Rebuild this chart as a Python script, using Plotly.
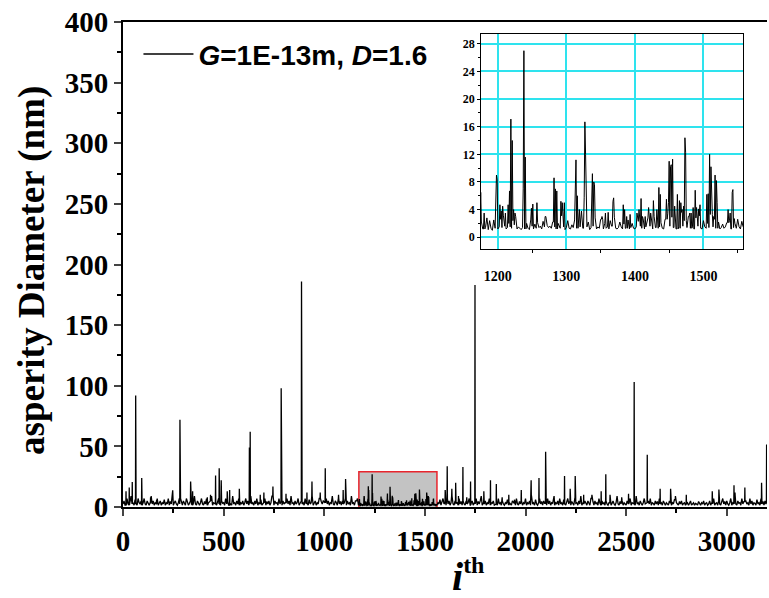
import plotly.graph_objects as go

# ---------------- data ----------------
# noise band outside the magnified window, one value every 5 indices
BASE_STEP = 5
BASE_LEFT_START = 0
BASE_LEFT = [2.5, 5, 1.5, 3.5, 7, 2.5, 1.5, 4.5, 9, 2.5, 3.5, 1.5, 6, 2.5, 1.5, 7, 3.5, 2.5, 5, 1.5,
             3.5, 7, 2.5, 1.5, 5, 3, 1.5, 3.5, 9, 2.5, 5, 1.5, 3.5, 2.5, 7, 1.5, 3, 5, 1.5, 3.5,
             2.5, 6, 1.5, 3.5, 2.5, 7, 1.5, 4.5, 2.5, 9, 1.5, 3.5, 5, 2.5, 1.5, 3.5, 7, 2.5, 4.5, 1.5,
             5, 2.5, 1.5, 7, 3.5, 1.5, 3, 5, 2.5, 1.5, 3.5, 9, 2.5, 1.5, 5, 3, 1.5, 3.5, 7, 2.5,
             1.5, 4.5, 2.5, 7, 1.5, 3.5, 5, 2.5, 9, 1.5, 3.5, 2.5, 6, 1.5, 3.5, 7, 2.5, 1.5, 5, 3,
             3.5, 1.5, 7, 2.5, 4.5, 1.5, 5, 2.5, 1.5, 9, 3, 3.5, 1.5, 5, 2.5, 7, 1.5, 3.5, 2.5, 5,
             1.5, 3.5, 7, 2.5, 5, 1.5, 3, 9, 2.5, 3.5, 1.5, 5, 2.5, 7, 1.5, 3.5, 2.5, 6, 1.5, 3.5,
             2.5, 7, 1.5, 4.5, 2.5, 5, 1.5, 3.5, 9, 2.5, 1.5, 5, 3, 3.5, 1.5, 7, 2.5, 4.5, 1.5, 5,
             2.5, 3.5, 1.5, 7, 2.5, 5, 1.5, 9, 3, 3.5, 1.5, 5, 2.5, 3.5, 7, 1.5, 3, 5, 2.5, 3.5,
             1.5, 7, 2.5, 3.5, 1.5, 6, 2.5, 3.5, 9, 1.5, 3, 5, 1.5, 3.5, 2.5, 7, 1.5, 4.5, 2.5, 5,
             3.5, 1.5, 7, 2.5, 5, 1.5, 3.5, 3, 9, 2.5, 1.5, 5, 3.5, 1.5, 7, 2.5, 4.5, 1.5, 5, 2.5,
             3.5, 7, 1.5, 5, 2.5, 3.5, 1.5, 9, 3, 3.5, 1.5, 5, 2.5, 7, 1.5]
BASE_RIGHT_START = 1560
BASE_RIGHT = [1.5, 3.5, 2.5, 6, 1.5, 3.5, 7, 2.5,
              3.5, 1.5, 7, 2.5, 5, 1.5, 3.5, 9, 2.5, 1.5, 5, 3, 3.5, 1.5, 7, 2.5, 4.5, 1.5, 5, 2.5,
              1.5, 5, 2.5, 3.5, 7, 1.5, 3, 5, 1.5, 3.5, 2.5, 7, 1.5, 4.5, 2.5, 5, 9, 1.5, 3.5, 2.5,
              5, 1.5, 3.5, 2.5, 7, 1.5, 3.5, 3, 5, 1.5, 2.5, 4.5, 1.5, 7, 2.5, 3.5, 1.5, 5, 2.5, 1.5,
              3.5, 2.5, 6, 1.5, 3.5, 2.5, 1.5, 5, 3, 3.5, 1.5, 7, 2.5, 1.5, 4.5, 2.5, 5, 1.5, 3.5, 2.5,
              7, 1.5, 3.5, 2.5, 5, 1.5, 9, 2.5, 3.5, 1.5, 6, 2.5, 1.5, 3.5, 7, 2.5, 4.5, 1.5, 5, 3,
              3.5, 1.5, 7, 2.5, 5, 1.5, 3.5, 3, 9, 1.5, 3.5, 2.5, 5, 1.5, 7, 2.5, 3.5, 1.5, 6, 2.5,
              1.5, 3.5, 7, 2.5, 5, 1.5, 4.5, 2.5, 1.5, 7, 3, 3.5, 1.5, 5, 2.5, 9, 1.5, 3.5, 2.5, 5,
              2.5, 1.5, 5, 3.5, 1.5, 7, 2.5, 4.5, 1.5, 5, 2.5, 3.5, 1.5, 7, 3, 1.5, 5, 2.5, 3.5, 1.5,
              5, 2.5, 1.5, 3.5, 7, 1.5, 3, 5, 2.5, 1.5, 3.5, 9, 2.5, 1.5, 4.5, 2.5, 5, 1.5, 3.5, 2.5,
              1.5, 5, 2.5, 3.5, 7, 1.5, 3.5, 2.5, 6, 1.5, 9, 2.5, 3.5, 1.5, 5, 3, 1.5, 3.5, 7, 2.5,
              3.5, 1.5, 5, 2.5, 7, 1.5, 3.5, 3, 1.5, 5, 2.5, 4.5, 1.5, 7, 2.5, 3.5, 1.5, 5, 2.5, 1.5,
              3.5, 2.5, 1.5, 5, 3, 1.5, 3.5, 2.5, 6, 1.5, 3.5, 2.5, 1.5, 4.5, 2.5, 5, 1.5, 3, 3.5, 1.5,
              2.5, 3.5, 1.5, 3, 5, 1.5, 2.5, 3.5, 1.5, 3, 2.5, 1.5, 4.5, 2.5, 1.5, 3.5, 2.5, 5, 1.5, 3,
              3.5, 1.5, 2.5, 5, 1.5, 3.5, 2.5, 7, 1.5, 3, 3.5, 1.5, 5, 2.5, 1.5, 3.5, 7, 2.5, 4.5, 1.5,
              5, 2.5, 1.5, 3.5, 7, 1.5, 3.5, 2.5, 9, 2.5, 1.5, 5, 3, 3.5, 1.5, 7, 2.5, 4.5, 1.5, 5,
              2.5, 3.5, 1.5, 7, 2.5, 5, 1.5, 3.5, 3, 1.5, 6, 2.5, 3.5, 1.5, 7, 2.5, 4.5, 1.5, 5, 2.5,
              3.5]
# noise band inside the magnified window, one value every 2 indices
INSET_BASE_START, INSET_STEP = 1176, 2
INSET_BASE = [2.2, 1.2, 3.5, 1.4, 2.8, 1.1, 2.4, 1.3, 1.0, 2.5,
              1.3, 2.1, 1.2, 1.5, 2.6, 1.4, 3.2, 1.6, 1.2, 1.4,
              2.0, 1.5, 1.3, 2.4, 1.8, 3.0, 1.2, 1.5, 1.3, 1.1,
              1.4, 1.2, 1.6, 2.0, 1.3, 1.1, 2.5, 1.6, 1.2, 1.9,
              1.3, 2.1, 1.4, 1.6, 1.2, 2.3, 1.5, 3.0, 1.7, 1.4,
              1.6, 1.3, 2.2, 1.5, 1.2, 1.4, 2.0, 1.3, 3.1, 1.2,
              1.5, 1.1, 1.4, 2.4, 1.3, 1.2, 1.8, 1.4, 2.5, 1.3,
              1.2, 2.7, 1.5, 3.8, 1.3, 2.4, 1.2, 1.5, 2.2, 1.1,
              1.4, 1.6, 1.3, 2.8, 1.2, 1.5, 1.3, 2.6, 1.4, 1.2,
              2.0, 1.3, 1.5, 1.2, 2.4, 1.6, 1.4, 2.9, 1.3, 1.2,
              1.4, 2.2, 1.5, 1.2, 1.9, 1.3, 1.6, 2.5, 1.2, 1.4,
              2.0, 1.3, 1.2, 1.5, 2.3, 1.4, 1.6, 1.3, 2.7, 1.2,
              1.5, 2.8, 1.3, 1.6, 2.4, 1.2, 3.0, 1.4, 2.2, 1.3,
              1.5, 2.1, 1.3, 1.2, 2.6, 1.4, 3.4, 1.6, 1.3, 2.9,
              1.4, 3.2, 1.2, 2.5, 1.5, 1.3, 3.6, 1.6, 2.4, 1.2,
              1.4, 3.0, 1.3, 2.2, 1.5, 1.2, 2.8, 1.4, 1.6, 3.1,
              1.3, 1.2, 2.4, 1.5, 1.3, 2.0, 1.4, 3.3, 1.2, 1.5,
              2.6, 1.3, 1.5, 2.2, 1.2, 1.4, 1.9, 1.3, 1.5, 2.1,
              1.3, 2.4, 1.2, 1.5, 1.4, 2.0, 1.3, 2.6, 1.5, 1.2,
              2.3, 1.5]
# individual peaks (index, diameter in nm)
SPIKE_IDX = [15, 31, 46, 63, 93, 137, 167, 247, 283, 285, 336, 346, 419, 435,
             460, 478, 488, 518, 530, 578, 628, 632, 682, 700, 745, 786, 810,
             887, 914, 939, 980, 1005, 1071, 1094, 1106, 1160,
             1175, 1180, 1197, 1198, 1199, 1203, 1205, 1207, 1211, 1215, 1217,
             1219, 1221, 1223, 1225, 1237, 1238, 1240, 1249, 1251, 1257, 1269,
             1282, 1284, 1286, 1292, 1294, 1297, 1313, 1314, 1316, 1319, 1326,
             1327, 1328, 1337, 1338, 1340, 1341, 1352, 1357, 1361, 1368, 1369,
             1383, 1385, 1388, 1393, 1403, 1406, 1409, 1411, 1415, 1420, 1423,
             1427, 1432, 1435, 1437, 1446, 1449, 1450, 1452, 1453, 1455, 1458,
             1462, 1465, 1467, 1469, 1471, 1473, 1474, 1480, 1482, 1485, 1488,
             1490, 1493, 1495, 1505, 1507, 1509, 1511, 1512, 1515, 1517, 1519,
             1520, 1536, 1539, 1542, 1543, 1545,
             1601, 1611, 1634, 1653, 1667, 1689, 1708, 1727, 1749, 1793, 1826,
             1855, 1884, 1917, 1945, 1979, 2028, 2067, 2100, 2102, 2141, 2194,
             2222, 2247, 2289, 2330, 2376, 2399, 2420, 2478, 2512, 2540, 2605,
             2669, 2721, 2745, 2799, 2928, 2961, 3036, 3041, 3090, 3173, 3198]
SPIKE_VAL = [13, 16, 20.6, 92, 24, 8, 6, 13.7, 72, 25, 21, 13, 8, 10,
             26, 32, 22, 13, 14, 15, 49, 62, 10, 12, 17, 98, 11,
             186, 12, 21, 12, 32, 10, 14, 23, 5,
             6.5, 3.5, 6.3, 9.0, 8.3, 4.7, 3.8, 4.5, 3.5, 4.7, 6.7,
             17.1, 14.0, 4.0, 3.5, 7.0, 27.0, 11.6, 4.2, 4.8, 5.0, 3.0,
             8.6, 7.0, 6.7, 5.2, 5.0, 5.0, 6.5, 11.2, 6.0, 4.0, 5.8,
             16.7, 12.0, 7.5, 9.2, 8.0, 7.6, 3.0, 3.5, 3.6, 5.2, 5.7,
             4.7, 4.0, 3.0, 3.3, 3.5, 4.0, 5.6, 3.0, 3.0, 4.3, 3.5,
             5.3, 4.0, 7.2, 6.2, 5.5, 5.0, 11.0, 10.2, 10.5, 11.3, 4.5,
             6.2, 5.3, 5.0, 4.0, 4.5, 14.4, 12.3, 3.5, 3.5, 4.3, 6.8,
             4.3, 4.1, 4.7, 6.2, 6.3, 12.0, 10.2, 5.0, 3.0, 9.0, 8.2,
             5.0, 4.0, 3.5, 6.5, 6.9, 2.7,
             14, 33.7, 15, 20, 9, 33, 8, 21, 183, 13, 22,
             19, 8, 10, 6, 14, 22, 24, 45.5, 28, 9, 25.5,
             15, 25.5, 10, 10, 13, 27, 10, 8, 11, 103, 43,
             15, 15, 9, 10, 13, 14.5, 18, 12, 16, 20, 51.6]

# magnified window (red box) and axis ticks
WINDOW = (1172, 1560, -1, 29)
X_TICKS = [0, 500, 1000, 1500, 2000, 2500, 3000]
Y_TICKS = [0, 50, 100, 150, 200, 250, 300, 350, 400]
INSET_X_TICKS = [1200, 1300, 1400, 1500]
INSET_Y_TICKS = [0, 4, 8, 12, 16, 20, 24, 28]
LEGEND_TEXT = "<b><i>G</i>=1E-13m, <i>D</i>=1.6</b>"
Y_TITLE = "<b>asperity Diameter (nm)</b>"
X_TITLE = "<b><i>i</i><sup><span style='font-size:24px'>th</span></sup></b>"

# ---------------- assemble the series ----------------
base = {}
for k, v in enumerate(BASE_LEFT):
    base[BASE_LEFT_START + k * BASE_STEP] = v
for k, v in enumerate(INSET_BASE):
    base[INSET_BASE_START + k * INSET_STEP] = v
for k, v in enumerate(BASE_RIGHT):
    base[BASE_RIGHT_START + k * BASE_STEP] = v
grid = sorted(base)

pts = dict(base)
spike_set = set(SPIKE_IDX)
for i, v in zip(SPIKE_IDX, SPIKE_VAL):
    pts[i] = v
# keep every peak a thin stem: its feet sit on the nearest band value
for i in SPIKE_IDX:
    near = min(grid, key=lambda g: abs(g - i) if g != i else 1e9)
    for j in (i - 1, i + 1):
        if j not in spike_set and j not in base:
            pts[j] = base[near]
xs = sorted(pts)
ys = [pts[i] for i in xs]
xi = [i for i in xs if 1170 <= i <= 1565]
yi = [pts[i] for i in xi]

serif = "Liberation Serif, Times New Roman, serif"
sans = "Liberation Sans, Arial, sans-serif"

fig = go.Figure()
fig.add_trace(go.Scatter(x=xs, y=ys, mode="lines", line=dict(color="black", width=1.3),
                         name=LEGEND_TEXT, showlegend=True, xaxis="x", yaxis="y"))
fig.add_trace(go.Scatter(x=xi, y=yi, mode="lines", line=dict(color="black", width=1),
                         showlegend=False, xaxis="x2", yaxis="y2"))

fig.add_shape(type="rect", xref="x", yref="y", x0=WINDOW[0], x1=WINDOW[1], y0=WINDOW[2], y1=WINDOW[3],
              fillcolor="#c3c3c3", line=dict(color="#e8252d", width=1.5), layer="below")

tick_font = dict(family=serif, size=29, color="black", weight="bold")
inset_font = dict(family=serif, size=14, color="black", weight="bold")

fig.update_layout(
    width=769, height=598,
    margin=dict(l=123, r=2, t=22, b=91),
    paper_bgcolor="white", plot_bgcolor="white",
    showlegend=True,
    legend=dict(x=0.024, y=0.985, xanchor="left", yanchor="top", bgcolor="rgba(0,0,0,0)",
                font=dict(family=sans, size=28, color="black"), itemwidth=50),
    xaxis=dict(range=[0, 3200], tickvals=X_TICKS, ticks="outside", ticklen=7, tickwidth=2,
               showline=True, linewidth=2, linecolor="black", mirror=True, showgrid=False,
               zeroline=False, tickfont=tick_font,
               minor=dict(tickvals=[250, 750, 1250, 1750, 2250, 2750], ticks="outside",
                          ticklen=4, tickwidth=1.5, tickcolor="black")),
    yaxis=dict(range=[0, 400], tickvals=Y_TICKS, ticks="outside", ticklen=7, tickwidth=2,
               showline=True, linewidth=2, linecolor="black", mirror=False, showgrid=False,
               zeroline=False, tickfont=tick_font,
               minor=dict(tickvals=[25, 75, 125, 175, 225, 275, 325, 375], ticks="outside",
                          ticklen=4, tickwidth=1.5, tickcolor="black")),
    xaxis2=dict(domain=[0.556, 0.963], anchor="y2", range=[1175.5, 1558], tickvals=INSET_X_TICKS,
                ticks="", showline=True, linewidth=1, linecolor="black", mirror=True,
                showgrid=True, gridcolor="#2ee3ee", gridwidth=1.5, zeroline=False,
                tickfont=inset_font, ticklabelstandoff=14,
                minor=dict(tickvals=[1250, 1350, 1450, 1550], ticks="outside", ticklen=3,
                           tickcolor="black", showgrid=False)),
    yaxis2=dict(domain=[0.532, 0.975], anchor="x2", range=[-1.7, 29.4], tickvals=INSET_Y_TICKS,
                ticks="outside", ticklen=3, tickcolor="black", showline=True, linewidth=1,
                linecolor="black", mirror=True, showgrid=True, gridcolor="#2ee3ee", gridwidth=1.5,
                zeroline=False, tickfont=dict(family=serif, size=12, color="black", weight="bold"),
                minor=dict(tickvals=[2, 6, 10, 14, 18, 22, 26], ticks="outside", ticklen=2,
                           tickcolor="black", showgrid=False)),
)

fig.add_annotation(xref="paper", yref="paper", x=-0.141, y=0.487, xanchor="center", yanchor="middle",
                   text=Y_TITLE, textangle=-90, showarrow=False,
                   font=dict(family=serif, size=37, color="black"))
fig.add_annotation(xref="paper", yref="paper", x=0.535, y=-0.142, xanchor="center", yanchor="middle",
                   text=X_TITLE, showarrow=False, font=dict(family=serif, size=40, color="black"))

fig.write_html("out.html")
